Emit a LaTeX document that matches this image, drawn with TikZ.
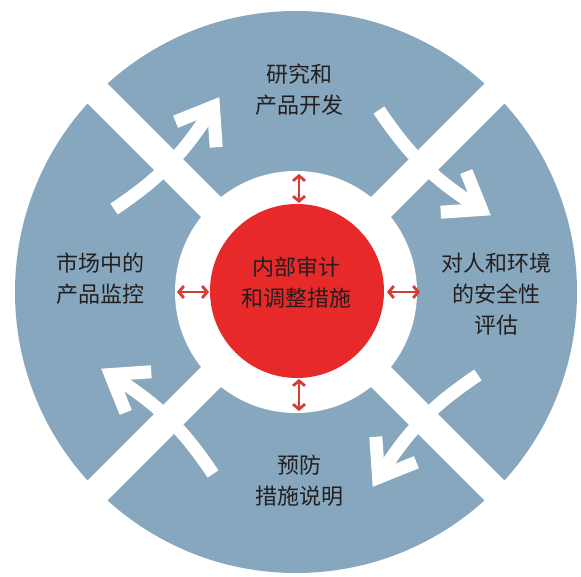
\documentclass[tikz,border=0pt]{standalone}
\usepackage{fontspec}
\newfontfamily\cjk{Noto Sans CJK SC}
\usetikzlibrary{arrows.meta,decorations.markings}
\definecolor{ringblue}{RGB}{134,167,189}
\definecolor{corered}{RGB}{232,41,42}
\definecolor{arrred}{RGB}{212,62,50}
\definecolor{txt}{RGB}{35,31,32}
\begin{document}
\begin{tikzpicture}[x=1pt,y=1pt,
  lbl/.style={font=\cjk\fontsize{22}{31}\selectfont, text=txt, align=center, inner sep=0pt},
  band/.style={white, line width=28pt},
  flow/.style={white, line width=13pt, line cap=butt, postaction={decorate},
    decoration={markings, mark=at position 1 with {\draw[white,line width=13pt,line join=miter] (-33,24) -- (0,0) -- (-33,-24);}}},
  dbl/.style={arrred, line width=2.8pt, {Straight Barb[length=5pt,width=12pt]}-{Straight Barb[length=5pt,width=12pt]}}]
\useasboundingbox (-296,-285) rectangle (285,292);
\fill[ringblue] (0,0) circle[radius=281];
\foreach \a in {45,135} \draw[band] (\a:290) -- (\a+180:290);
\fill[white] (0,0) circle[radius=121];
\fill[corered] (1,1) circle[radius=87];
\foreach \b in {45,-45,-135,135}
  \draw[flow] (\b+20.5:200) to[bend right=12] (\b-21:203);
\coordinate (tn1) at (3,89); \coordinate (tn2) at (3,118);
\coordinate (ts1) at (3,-87); \coordinate (ts2) at (3,-119);
\coordinate (tw1) at (-87,0); \coordinate (tw2) at (-119,0);
\coordinate (te1) at (91,0); \coordinate (te2) at (124,0);
\draw[dbl] (tn1) -- (tn2);
\draw[dbl] (ts1) -- (ts2);
\draw[dbl] (tw1) -- (tw2);
\draw[dbl] (te1) -- (te2);
\node[lbl] (rd) at (4,202.5) {研究和\\产品开发};
\node[lbl] (mon) at (-195,13.5) {市场中的\\产品监控};
\node[lbl] (safe) at (200,-2.5) {对人和环境\\的安全性\\评估};
\node[lbl] (prev) at (4,-188.5) {预防\\措施说明};
\node[lbl] (core) at (1,9) {内部审计\\和调整措施};
\end{tikzpicture}
\end{document}
